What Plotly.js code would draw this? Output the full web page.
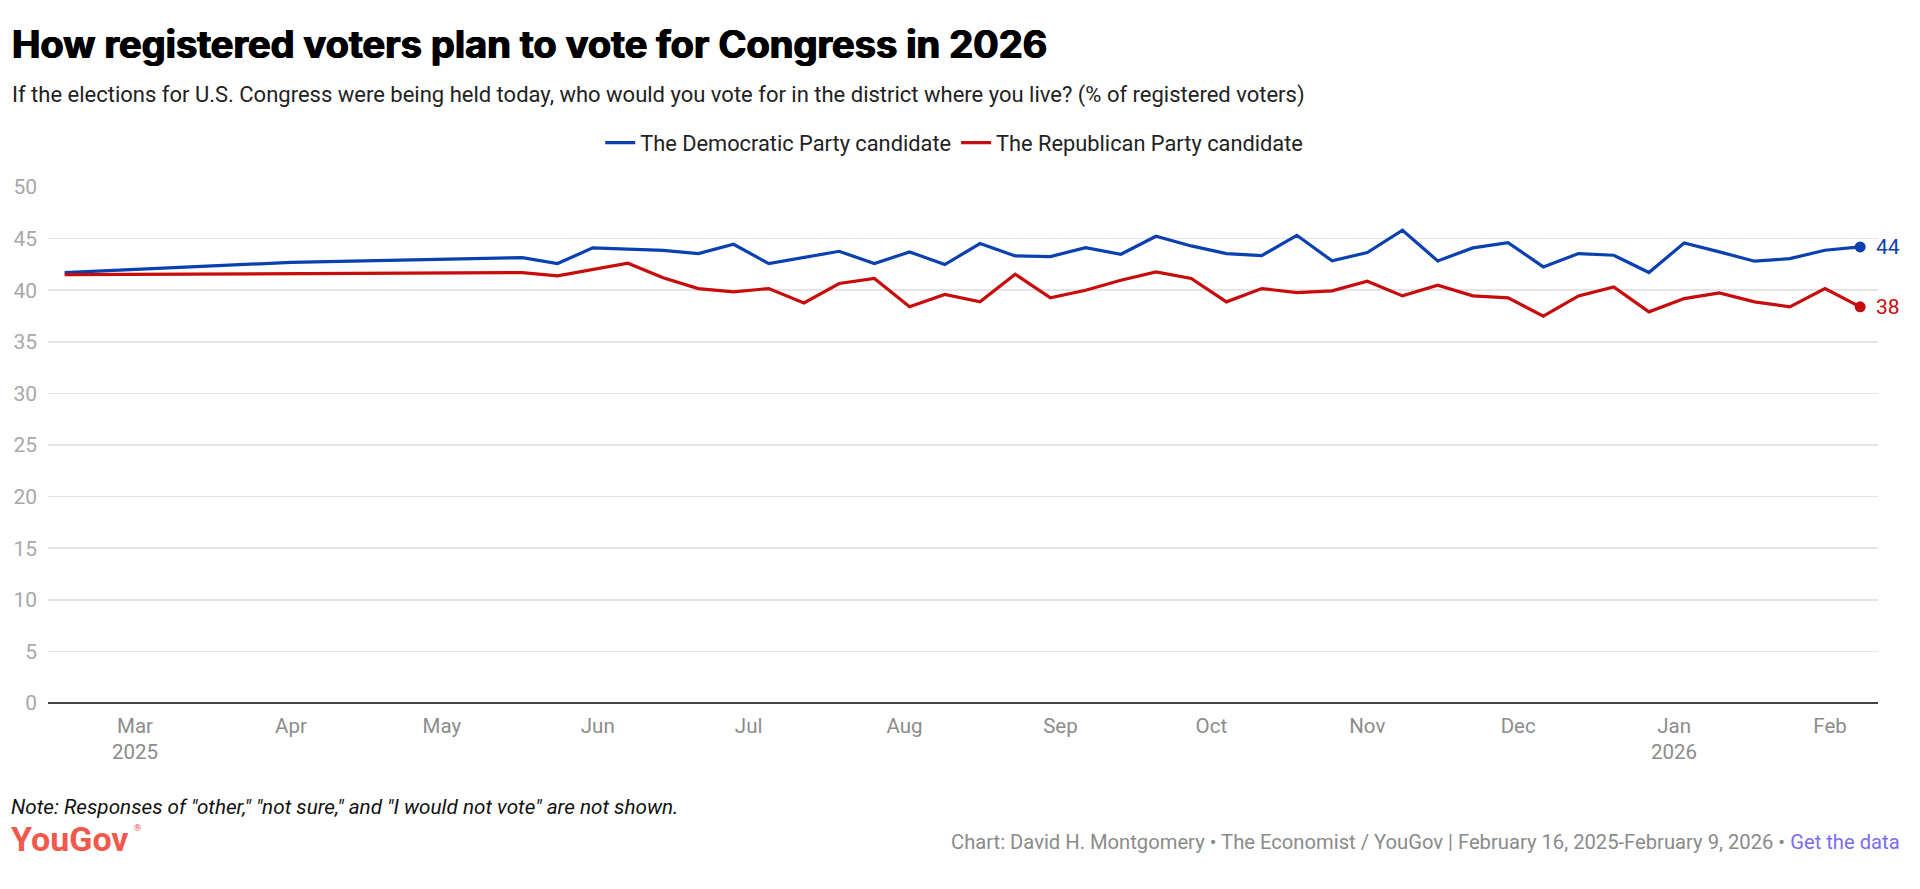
<!DOCTYPE html>
<html>
<head>
<meta charset="utf-8">
<script src="https://cdn.plot.ly/plotly-3.0.1.min.js"></script>
<style>
  html, body { margin: 0; padding: 0; background: #fff; }
  #chart { width: 1920px; height: 889px; }
</style>
</head>
<body>
<div id="chart"></div>
<script>
// ---- Data ----
const pollDates = [
  '2025-02-15', '2025-04-01',
  '2025-05-17', '2025-05-24', '2025-05-31', '2025-06-07', '2025-06-14', '2025-06-21', '2025-06-28',
  '2025-07-05', '2025-07-12', '2025-07-19', '2025-07-26', '2025-08-02', '2025-08-09', '2025-08-16',
  '2025-08-23', '2025-08-30', '2025-09-06', '2025-09-13', '2025-09-20', '2025-09-27', '2025-10-04',
  '2025-10-11', '2025-10-18', '2025-10-25', '2025-11-01', '2025-11-08', '2025-11-15', '2025-11-22',
  '2025-11-29', '2025-12-06', '2025-12-13', '2025-12-20', '2025-12-27', '2026-01-03', '2026-01-10',
  '2026-01-17', '2026-01-24', '2026-01-31', '2026-02-07'
];
const democratic = [
  41.7, 42.7,
  43.16, 42.58, 44.10, 43.97, 43.85, 43.55, 44.45,
  42.58, 43.15, 43.77, 42.58, 43.71, 42.48, 44.52,
  43.32, 43.26, 44.13, 43.48, 45.23, 44.29, 43.55,
  43.35, 45.32, 42.84, 43.65, 45.81, 42.84, 44.10,
  44.61, 42.26, 43.55, 43.39, 41.71, 44.58, 43.71,
  42.81, 43.06, 43.87, 44.19
];
const republican = [
  41.5, 41.6,
  41.71, 41.39, 42.00, 42.61, 41.20, 40.16, 39.84,
  40.16, 38.77, 40.65, 41.13, 38.39, 39.58, 38.87,
  41.55, 39.26, 40.00, 40.97, 41.77, 41.13, 38.87,
  40.16, 39.77, 39.94, 40.87, 39.45, 40.48, 39.45,
  39.26, 37.48, 39.45, 40.32, 37.90, 39.19, 39.74,
  38.87, 38.39, 40.16, 38.39
];
const seriesNames = ['The Democratic Party candidate', 'The Republican Party candidate'];
const monthTickDates = ['2025-03-01','2025-04-01','2025-05-01','2025-06-01','2025-07-01','2025-08-01',
  '2025-09-01','2025-10-01','2025-11-01','2025-12-01','2026-01-01','2026-02-01'];
const monthTickLabels = ['Mar<br>2025','Apr','May','Jun','Jul','Aug','Sep','Oct','Nov','Dec','Jan<br>2026','Feb'];
const yTickValues = [0, 5, 10, 15, 20, 25, 30, 35, 40, 45, 50];

const titleText = 'How registered voters plan to vote for Congress in 2026';
const subtitleText = 'If the elections for U.S. Congress were being held today, who would you vote for in the district where you live? (% of registered voters)';
const noteText = 'Note: Responses of "other," "not sure," and "I would not vote" are not shown.';
const creditText = 'Chart: David H. Montgomery • The Economist / YouGov | February 16, 2025-February 9, 2026 • ';
const creditLinkText = 'Get the data';

// ---- Styling ----
const BLUE = '#0a40b0';
const RED = '#c80b0b';
const FONT = 'Roboto, "Liberation Sans", sans-serif';
const W = 1920, H = 889;
const PL = 48, PR = 1878, PT = 187, PB = 703.5;
const px = x => (x - PL) / (PR - PL);
const py = y => (PB - y) / (PB - PT);

const last = pollDates.length - 1;

const traces = [
  { x: pollDates, y: democratic, name: seriesNames[0], type: 'scatter', mode: 'lines',
    line: { color: BLUE, width: 3.2 }, hoverinfo: 'skip' },
  { x: pollDates, y: republican, name: seriesNames[1], type: 'scatter', mode: 'lines',
    line: { color: RED, width: 3.2 }, hoverinfo: 'skip' },
  { x: [pollDates[last]], y: [democratic[last]], type: 'scatter', mode: 'markers', showlegend: false,
    marker: { color: BLUE, size: 11 }, hoverinfo: 'skip' },
  { x: [pollDates[last]], y: [republican[last]], type: 'scatter', mode: 'markers', showlegend: false,
    marker: { color: RED, size: 11 }, hoverinfo: 'skip' }
];

const annotations = [
  { text: '<b>' + titleText + '</b>', xref: 'paper', yref: 'paper', x: px(10), y: py(44),
    xanchor: 'left', yanchor: 'middle', showarrow: false,
    font: { family: 'Inter, Roboto, sans-serif', size: 38, color: '#000', weight: 900,
            shadow: '0.7px 0 0 #000, -0.7px 0 0 #000' } },
  { text: subtitleText, xref: 'paper', yref: 'paper', x: px(10), y: py(95),
    xanchor: 'left', yanchor: 'middle', showarrow: false,
    font: { family: FONT, size: 22, color: '#222' } },
  { text: '<i>' + noteText + '</i>', xref: 'paper', yref: 'paper', x: px(9), y: py(808),
    xanchor: 'left', yanchor: 'middle', showarrow: false,
    font: { family: FONT, size: 20.7, color: '#111' } },
  { text: '<b>YouGov</b>', xref: 'paper', yref: 'paper', x: px(9), y: py(840),
    xanchor: 'left', yanchor: 'middle', showarrow: false,
    font: { family: FONT, size: 34, color: '#f0594b' } },
  { text: '®', xref: 'paper', yref: 'paper', x: px(132), y: py(829),
    xanchor: 'left', yanchor: 'middle', showarrow: false,
    font: { family: FONT, size: 9, color: '#f0594b' } },
  { text: creditText + '<span style="color:#7c6cf2">' + creditLinkText + '</span>', xref: 'paper', yref: 'paper',
    x: px(1902), y: py(843), xanchor: 'right', yanchor: 'middle', showarrow: false,
    font: { family: FONT, size: 20.2, color: '#8a8a8a' } },
  { text: String(Math.round(democratic[last])), xref: 'x', yref: 'y', x: pollDates[last], y: democratic[last],
    xanchor: 'left', yanchor: 'middle', xshift: 14, showarrow: false,
    font: { family: FONT, size: 21, color: BLUE } },
  { text: String(Math.round(republican[last])), xref: 'x', yref: 'y', x: pollDates[last], y: republican[last],
    xanchor: 'left', yanchor: 'middle', xshift: 14, showarrow: false,
    font: { family: FONT, size: 21, color: RED } }
];

const layout = {
  width: W, height: H, autosize: false,
  paper_bgcolor: '#fff', plot_bgcolor: '#fff',
  margin: { l: PL, r: W - PR, t: PT, b: H - PB, pad: 0 },
  font: { family: FONT, color: '#222' },
  showlegend: true,
  legend: { orientation: 'h', xref: 'container', yref: 'container', x: 0.497, y: 1 - 143 / H,
    xanchor: 'center', yanchor: 'middle', font: { family: FONT, size: 21.8, color: '#222' },
    itemwidth: 30, bgcolor: 'rgba(0,0,0,0)' },
  xaxis: {
    type: 'date', range: ['2025-02-11 16:48', '2026-02-10 13:00'],
    tickmode: 'array', tickvals: monthTickDates, ticktext: monthTickLabels,
    showgrid: false, zeroline: false, showline: false, ticks: '',
    ticklabelstandoff: 8,
    tickfont: { family: FONT, size: 20.5, color: '#8c8c8c' }, fixedrange: true
  },
  yaxis: {
    range: [0, 50], tickmode: 'array', tickvals: yTickValues,
    showgrid: true, gridcolor: '#e4e4e4', gridwidth: 1.5,
    zeroline: true, zerolinecolor: '#444', zerolinewidth: 2,
    showline: false, ticks: '', ticklabelstandoff: 10,
    tickfont: { family: FONT, size: 21, color: '#a8a8a8' }, fixedrange: true
  },
  annotations: annotations,
  hovermode: false
};

Plotly.newPlot('chart', traces, layout, { displayModeBar: false, staticPlot: true });
</script>
</body>
</html>
